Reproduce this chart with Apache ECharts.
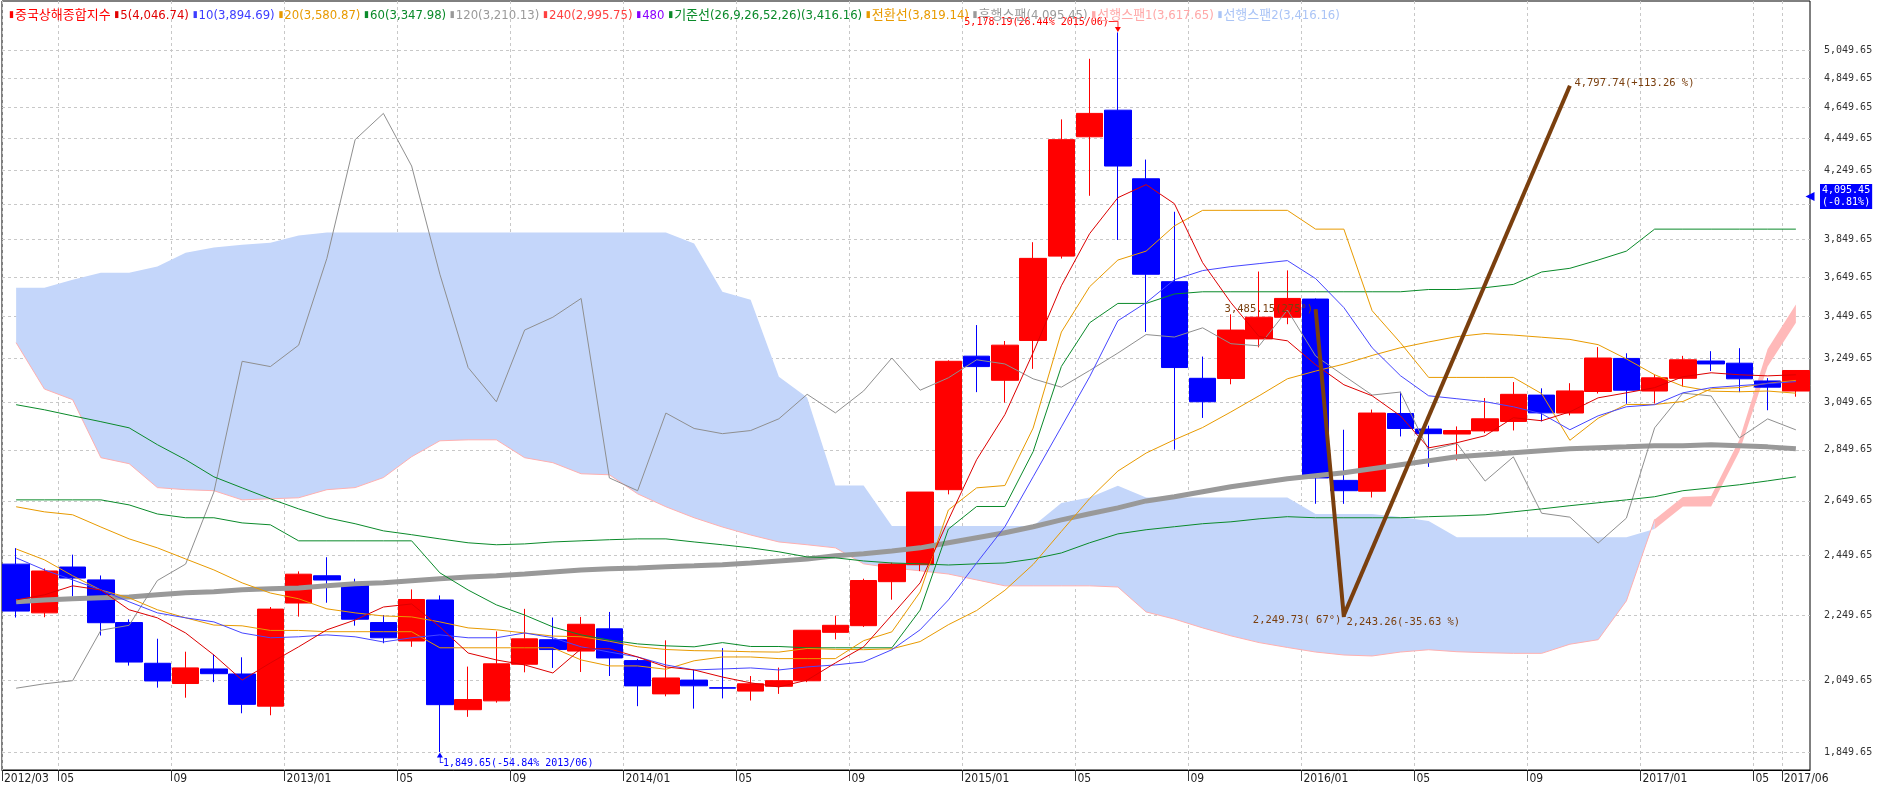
<!DOCTYPE html>
<html>
<head>
<meta charset="utf-8">
<title>중국상해종합지수</title>
<script src="https://cdn.jsdelivr.net/npm/echarts@6/dist/echarts.min.js"></script>
<style>
html,body{margin:0;padding:0;background:#ffffff;overflow:hidden;}
#chart{width:1877px;height:789px;}
</style>
</head>
<body>
<div id="chart"></div>
<script>
const months = ['2012/03','2012/04','2012/05','2012/06','2012/07','2012/08','2012/09','2012/10','2012/11','2012/12',
'2013/01','2013/02','2013/03','2013/04','2013/05','2013/06','2013/07','2013/08','2013/09','2013/10','2013/11','2013/12',
'2014/01','2014/02','2014/03','2014/04','2014/05','2014/06','2014/07','2014/08','2014/09','2014/10','2014/11','2014/12',
'2015/01','2015/02','2015/03','2015/04','2015/05','2015/06','2015/07','2015/08','2015/09','2015/10','2015/11','2015/12',
'2016/01','2016/02','2016/03','2016/04','2016/05','2016/06','2016/07','2016/08','2016/09','2016/10','2016/11','2016/12',
'2017/01','2017/02','2017/03','2017/04','2017/05','2017/06'];

const opens = [2420,2257,2410,2366,2226,2100,2040,2083,2068,1975,
2289,2380,2350,2226,2168,2299,1965,1990,2097,2172,
2137,2206,2108,2010,2050,2028,2018,2032,2048,2195,
2216,2360,2418,2692,3258.6,3148,3332.7,3760,4460,4633,
4200,3625,3157,3156,3340,3445,3536,2728,2686,3002,
2936,2915,2928,2968,3082,3004,3098,3248,3100,3157,
3236,3226,3145,3100];
const closes = [2262.79,2396.32,2372.23,2225.43,2103.63,2047.52,2086.17,2068.88,1980.12,2269.13,
2385.42,2365.59,2236.62,2177.91,2300.59,1979.21,1993.80,2098.38,2174.66,2141.61,
2220.50,2115.98,2033.08,2056.30,2033.31,2026.36,2039.21,2048.33,2201.56,2217.20,
2363.87,2420.18,2682.84,3234.68,3210.36,3310.30,3747.90,4441.66,4611.74,4277.22,
3663.73,3205.99,3052.78,3382.56,3445.40,3539.18,2737.60,2687.98,3003.92,2938.32,
2916.62,2929.61,2979.34,3085.49,3004.70,3100.49,3250.03,3103.64,3159.17,3241.73,
3222.51,3154.66,3117.18,3192.43];
const lows = [2242,2243,2311,2185,2093,2028,1999,2044,1955,1949.46,
2245,2290,2216,2161,2150,1849.65,1945,1985,2073,2086,
2074,2062,1975,2003,1968,1997,1991,2010,2044,2173,
2212,2300,2396,2674,3095.07,3049,3200,3747,4099,3847.88,
3373.54,2850.71,2983,3130,3300,3411,2638.3,2638,2662,2905,
2781,2807,2919,2930,2968,2994,3089,3044,3045,3120,
3190,3095,3016,3075];
const highs = [2476,2405,2453,2381,2236,2175,2135,2127,2118,2276,
2395,2444,2370,2250,2334,2314,2090,2198,2270,2242,
2244,2260,2113,2170,2080,2146,2062,2087,2202,2248,
2370,2425,2683,3239.36,3406.79,3330,3835.57,4572.39,4986.5,5178.19,
4317,4006.34,3256.7,3459.6,3678,3684,3539,2933,3019,3097,
2950,2947,3069,3140,3112,3135,3301,3272,3174,3260,
3282,3296,3158,3193];

const ma5 = [2299,2316,2346,2332,2267,2241,2193,2125,2050,2101,
2150,2203,2234,2276,2286,2212,2131,2110,2095,2071,
2144,2144,2119,2089,2080,2059,2042,2030,2050,2101,
2150,2250,2356,2578,2810,2997,3275,3604,3883,4088,
4165,4053,3725,3518,3351,3331,3219,3128,3079,2992,
2858,2879,2908,2984,2971,3009,3070,3092,3115,3164,
3182,3173,3168,3173];
const ma10 = [2442,2400,2366,2332,2293,2257,2241,2228,2193,2178,
2181,2187,2181,2165,2178,2187,2178,2178,2193,2178,
2150,2134,2119,2095,2080,2083,2086,2080,2089,2095,
2104,2141,2203,2299,2424,2553,2742,2945,3164,3428,
3518,3635,3683,3704,3720,3736,3641,3493,3298,3169,
3079,3066,3053,3031,3001,2933,2992,3031,3040,3092,
3115,3124,3133,3142];
const ma20 = [2627,2608,2597,2552,2509,2477,2438,2400,2356,2322,
2303,2270,2257,2247,2244,2228,2209,2203,2193,2183.3,
2181.2,2167.2,2150.2,2141.8,2138.2,2137.2,2134.8,2133.8,2144.9,2142.3,
2141.2,2143.9,2166.2,2219.1,2264.6,2331.1,2418.8,2536.0,2657.8,2764.6,
2836.8,2891.3,2942.3,3008.6,3079.2,3154.8,3189.8,3221.7,3261.9,3297.9,
3325.5,3351.0,3365.8,3358.4,3348.1,3337.6,3312.7,3245.8,3173.2,3121.4,
3099.4,3096.8,3100.0,3090.5];
const ma60 = [3040,3018,2992,2967,2941,2871,2810,2742,2699,2657,
2619,2586,2564,2538,2524,2509,2495,2488,2491,2498,
2502,2506,2509,2509,2498,2488,2477,2463,2445,2442,
2431,2424,2421,2417,2421,2424,2438,2459,2495,2527,
2542,2553,2564,2571,2582,2590,2586,2586,2586,2586,
2590,2593,2597,2608,2619,2631,2642,2653,2665,2688,
2699,2711,2726,2742];
const ma120 = [2293,2299,2303,2306,2309,2316,2323,2326,2333,2336,
2339,2346,2353,2356,2363,2370,2376,2380,2386,2393,
2400,2404,2407,2411,2414,2418,2424,2431,2438,2449,
2456,2466,2477,2495,2513,2531,2553,2578,2601,2623,
2649,2665,2684,2703,2719,2734,2746,2758,2774,2790,
2806,2822,2830,2838,2846,2854,2858,2862,2867,2867,
2871,2867,2862,2854];
const conversionLine = [2473,2435,2380,2332,2306,2267,2241,2218,2215.5,2201,
2201,2197,2197,2197,2197,2147,2147,2147,2147,2147,
2110,2092,2092,2082,2107.5,2119,2119,2114,2114,2114,
2169,2196.5,2325.5,2615,2699,2708,2940,3373,3599,3739,
3787,3926,4014.5,4014.5,4014.5,4014.5,3908,3908,3477.5,3322,
3161,3161,3161,3161,3088.5,2889,2981.5,3041,3041,3054,
3110,3115.5,3134.5,3147.5];
const baseLine = [2653,2653,2653,2653,2634,2600,2586,2586,2567,2560,
2502,2502,2502,2502,2502,2390,2332,2283,2250,2212,
2187,2171,2159,2153,2150,2163,2151,2151,2147,2147,
2147,2147,2266,2544.5,2628,2628,2842.6,3211,3418,3513.9,
3513.9,3561.6,3573,3573,3573,3573,3573,3573,3573,3573,
3584.6,3584.6,3594,3611,3675.6,3695,3739,3787,3908,3908,
3908,3908,3908,3908];
const laggingSpan = [2026.36,2039.21,2048.33,2201.56,2217.20,2363.87,2420.18,2682.84,3234.68,3210.36,
3310.30,3747.90,4441.66,4611.74,4277.22,3663.73,3205.99,3052.78,3382.56,3445.40,
3539.18,2737.60,2687.98,3003.92,2938.32,2916.62,2929.61,2979.34,3085.49,3004.70,
3100.49,3250.03,3103.64,3159.17,3241.73,3222.51,3154.66,3117.18,3192.43,3273.03,
3360.81,3348.94,3393.34,3317.19,3307.17,3480.83,3259.41,3168.90,3082.23,3095.47,
2847.42,2876.40,2725.25,2821.35,2602.78,2588.19,2493.90,2584.57,2940.95,3090.76,
3078.34,2898.70,2978.88,2932.51];
const leadingSpan1 = [3322,3109,3062,2818,2794,2700,2692,2688,2653,2657,
2661,2692,2700,2739,2822,2887,2891,2891,2818,2798,
2754,2750,2676,2627,2586,2552,2523,2498,2488,2477,
2421,2407,2397,2386,2366,2346,2346,2346,2346,2342,
2260,2237,2209,2184,2163,2148,2134,2125,2122,2134,
2141,2135,2132,2130,2130,2158,2172,2296,2580,2663.5,
2668,2891,3292,3508.5];
const leadingSpan2 = [3594,3594,3635,3672,3672,3704,3778,3806,3822,3833,
3872,3889,3889,3889,3889,3889,3889,3889,3889,3889,
3889,3889,3889,3889,3828,3573,3533,3164,3071,2708,
2708,2556,2556,2556,2556,2556,2556,2641,2662,2707,
2662,2662,2662,2662,2662,2662,2600,2600,2600,2589,
2574,2515,2515,2515,2515,2515,2515,2515,2544.5,2628,
2628,2842.6,3211,3418];

const trendIdx = [46, 47, 55];
const trendDownVals = [3485.15, 2243.26];
const trendUpVals = [2249.73, 4797.74];
const trendTexts = ['3,485.15(275°)', '2,249.73( 67°)', '2,243.26(-35.63 %)', '4,797.74(+113.26 %)'];

const highMarkIdx = 39, highMarkText = '5,178.19(26.44% 2015/06)─┐';
const lowMarkIdx = 15, lowMarkText = '└1,849.65(-54.84% 2013/06)';
const currentPrice = 4095.45, currentPriceText = '4,095.45\n(-0.81%)';

const xTickIdx = [0,2,6,10,14,18,22,26,30,34,38,42,46,50,54,58,62,63];
const xTickLabels = ['2012/03','05','09','2013/01','05','09','2014/01','05','09','2015/01','05','09','2016/01','05','09','2017/01','05','2017/06'];
const yTickValues = [1849.65,2049.65,2249.65,2449.65,2649.65,2849.65,3049.65,3249.65,3449.65,3649.65,3849.65,4049.65,4249.65,4449.65,4649.65,4849.65,5049.65];
const yLabelValues = [1849.65,2049.65,2249.65,2449.65,2649.65,2849.65,3049.65,3249.65,3449.65,3649.65,3849.65,4249.65,4449.65,4649.65,4849.65,5049.65];

const legendLabels = ['중국상해종합지수','5(4,046.74)','10(3,894.69)','20(3,580.87)','60(3,347.98)','120(3,210.13)','240(2,995.75)','480','기준선(26,9,26,52,26)(3,416.16)','전환선(3,819.14)','후행스팬(4,095.45)','선행스팬1(3,617.65)','선행스팬2(3,416.16)'];
const legendColors = ['#ff0000','#e00000','#3c3cff','#e89a00','#0a8a2a','#9a9a9a','#ff4040','#8a00ff','#0a8a2a','#e89a00','#9a9a9a','#ffa8a8','#aac4f6'];

const cond = "'DejaVu Sans Condensed','Noto Sans CJK KR',sans-serif";
const mono = "'DejaVu Sans Mono',monospace";
const fmt2 = v => Number(v).toLocaleString('en-US', {minimumFractionDigits: 2, maximumFractionDigits: 2});

const twist = leadingSpan1.findIndex((v, i) => v > leadingSpan2[i]);

const rich = {};
legendLabels.forEach((t, i) => {
  rich['m' + i] = { color: legendColors[i], fontSize: 9, fontWeight: 'normal', fontFamily: 'DejaVu Sans', padding: [0, 1, 1, 0] };
  rich['t' + i] = { color: legendColors[i], fontSize: 13, fontWeight: 'normal', fontFamily: cond };
});
const legendText = legendLabels.map((t, i) => '{m' + i + '|▮}{t' + i + '|' + t + '}').join(' ');

function lineSeries(name, data, color, width, z) {
  return { name: name, type: 'line', data: data, showSymbol: false, symbol: 'none', silent: true,
    z: z || 3, lineStyle: { color: color, width: width || 1 }, itemStyle: { color: color }, animation: false };
}

const trendDown = months.map((m, i) => i === trendIdx[0] ? trendDownVals[0] : (i === trendIdx[1] ? trendDownVals[1] : null));
const trendUp = months.map((m, i) => i === trendIdx[1] ? trendUpVals[0] : (i === trendIdx[2] ? trendUpVals[1] : null));

const annoLabel = (pos, off, color) => ({ show: true, position: pos, distance: 2, offset: off, color: color, fontFamily: mono, fontSize: 10.5 });
const brown = '#7a3f0e';

const chart = echarts.init(document.getElementById('chart'), null, { renderer: 'canvas' });
const option = {
  animation: false,
  backgroundColor: '#ffffff',
  title: { text: legendText, left: 4, top: 4, textStyle: { rich: rich, fontSize: 13, fontWeight: 'normal', fontFamily: cond } },
  grid: { left: 2, right: 67, top: 1, bottom: 19, show: true, borderColor: '#000', borderWidth: 1, outerBoundsMode: 'none', containLabel: false },
  xAxis: [
    { type: 'category', data: months, boundaryGap: true, show: false, gridIndex: 0 },
    { type: 'value', min: 0, max: months.length, position: 'bottom', gridIndex: 0,
      axisLine: { show: true, onZero: false, lineStyle: { color: '#000', width: 1 } },
      axisTick: { show: true, length: 11, customValues: xTickIdx, lineStyle: { color: '#333' } },
      axisLabel: { customValues: xTickIdx, formatter: v => xTickLabels[xTickIdx.indexOf(v)], align: 'left', margin: 3,
        padding: [0, 0, 0, 2], fontFamily: cond, fontSize: 12, color: '#222' },
      splitLine: { show: true, lineStyle: { color: '#c8c8c8', type: [3, 3], width: 1 } } }
  ],
  yAxis: { type: 'log', logBase: 10, min: 1802.6, max: 5416.3, position: 'right',
    axisLine: { show: false }, axisTick: { show: false, customValues: yTickValues },
    axisLabel: { customValues: yLabelValues, formatter: v => fmt2(v), margin: 14, fontFamily: mono, fontSize: 10, color: '#333' },
    splitLine: { show: true, lineStyle: { color: '#c8c8c8', type: [3, 3], width: 1 } } },
  series: [
    { name: '구름', type: 'custom', z: 1, silent: true, data: [[0, 3000]], encode: { x: 0, y: 1 },
      renderItem: function (params, api) {
        const bu = [], bl = [], pu = [], pl = [];
        for (let i = 0; i <= twist; i++) { bu.push(api.coord([i, leadingSpan2[i]])); bl.push(api.coord([i, leadingSpan1[i]])); }
        for (let i = twist; i < months.length; i++) { pu.push(api.coord([i, leadingSpan1[i]])); pl.push(api.coord([i, leadingSpan2[i]])); }
        return { type: 'group', children: [
          { type: 'polygon', shape: { points: bu.concat(bl.reverse()) }, style: { fill: '#c4d6fa' } },
          { type: 'polygon', shape: { points: pu.concat(pl.reverse()) }, style: { fill: '#ffb9b9' } }
        ] };
      } },
    lineSeries('선행스팬1', leadingSpan1.map((v, i) => i <= twist ? v : null), '#ffb0b0', 1, 2),
    { name: '중국상해종합지수', type: 'candlestick', z: 2, barWidth: '95%',
      data: opens.map((o, i) => [o, closes[i], lows[i], highs[i]]),
      itemStyle: { color: '#ff0000', color0: '#0000ff', borderColor: '#ff0000', borderColor0: '#0000ff', borderWidth: 1 },
      markPoint: { silent: true, animation: false, data: [
        { coord: [months[highMarkIdx], highs[highMarkIdx]], symbol: 'triangle', symbolRotate: 180, symbolSize: [6, 5], symbolOffset: [0, -3],
          itemStyle: { color: '#ff0000' }, label: { show: true, position: 'left', distance: 0, offset: [6, -7], formatter: highMarkText, color: '#ff0000', fontFamily: mono, fontSize: 10 } },
        { coord: [months[lowMarkIdx], lows[lowMarkIdx]], symbol: 'triangle', symbolSize: [6, 5], symbolOffset: [0, 3],
          itemStyle: { color: '#0000ff' }, label: { show: true, position: 'right', distance: 0, offset: [-6, 8], formatter: lowMarkText, color: '#0000ff', fontFamily: mono, fontSize: 10 } }
      ] },
      markLine: { silent: true, animation: false, symbol: ['none', 'path://M0,0 L10,0 L5,10 Z'], symbolSize: 9,
        data: [{ yAxis: currentPrice }], lineStyle: { color: '#0000ff', width: 0, type: 'solid' },
        label: { show: true, position: 'end', distance: 10, formatter: currentPriceText, color: '#ffffff', backgroundColor: '#0000ff',
          fontFamily: mono, fontSize: 10, lineHeight: 12, padding: [1, 2, 0, 2] } } },
    lineSeries('120', ma120, '#999999', 5, 3),
    lineSeries('후행스팬', laggingSpan, '#8f8f8f', 1, 3),
    lineSeries('60', ma60, '#0a8a2a', 1, 3),
    lineSeries('기준선', baseLine, '#0a8a2a', 1, 3),
    lineSeries('20', ma20, '#e89a00', 1, 3),
    lineSeries('전환선', conversionLine, '#e89a00', 1, 3),
    lineSeries('10', ma10, '#4646ff', 1, 3),
    lineSeries('5', ma5, '#dd0000', 1, 3),
    Object.assign(lineSeries('추세선1', trendDown, brown, 4, 4), { connectNulls: true,
      markPoint: { silent: true, animation: false, symbol: 'rect', symbolSize: 1, itemStyle: { color: 'rgba(0,0,0,0)' }, data: [
        { coord: [months[trendIdx[0]], trendDownVals[0]], label: annoLabel('left', [0, 0], brown), value: trendTexts[0] },
        { coord: [months[trendIdx[1]], trendUpVals[0]], label: annoLabel('left', [0, 5], brown), value: trendTexts[1] },
        { coord: [months[trendIdx[1]], trendDownVals[1]], label: annoLabel('right', [0, 5], brown), value: trendTexts[2] },
        { coord: [months[trendIdx[2]], trendUpVals[1]], label: annoLabel('right', [2, -2], brown), value: trendTexts[3] }
      ], label: { formatter: p => p.value } } }),
    Object.assign(lineSeries('추세선2', trendUp, brown, 4, 4), { connectNulls: true })
  ]
};
chart.setOption(option);
</script>
</body>
</html>
